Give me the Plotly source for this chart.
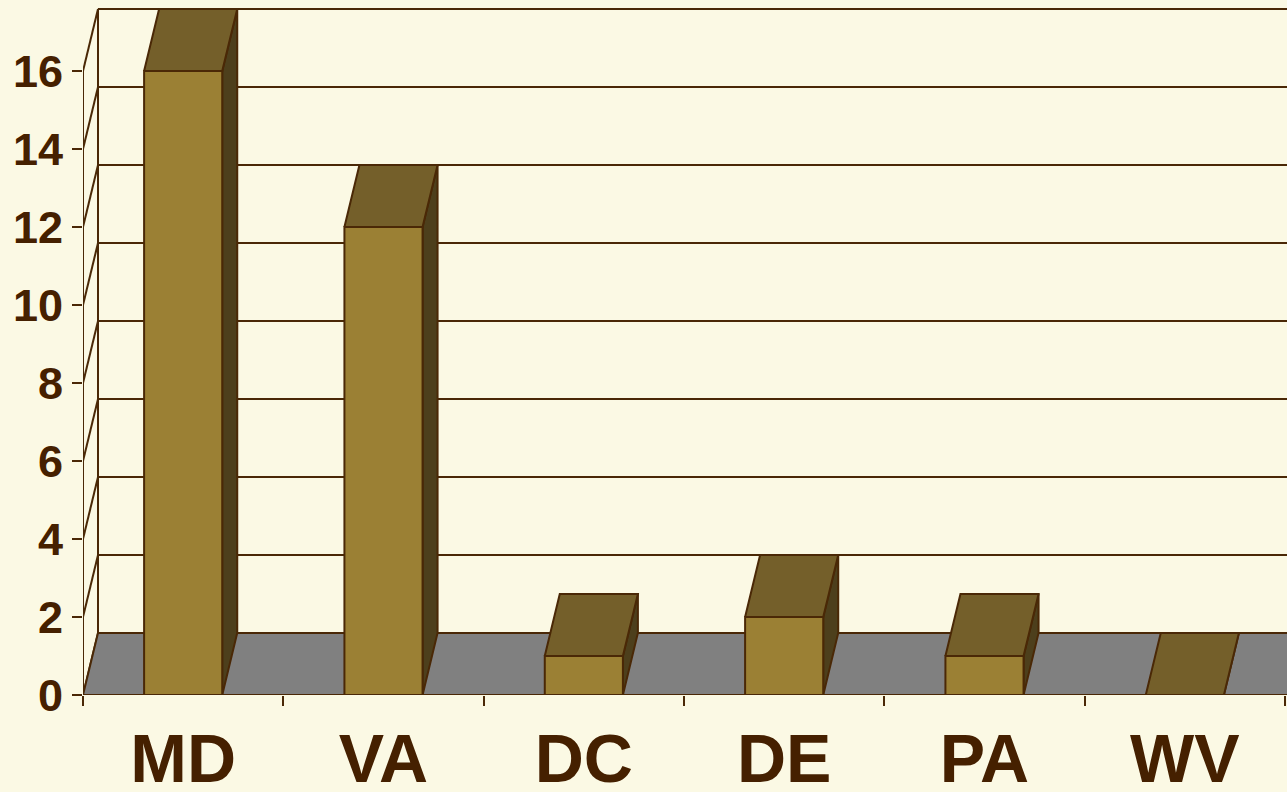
import plotly.graph_objects as go

# ---- data ----
categories = ["MD", "VA", "DC", "DE", "PA", "WV"]
values = [16, 12, 1, 2, 1, 0]
y_ticks = [0, 2, 4, 6, 8, 10, 12, 14, 16]

# ---- style / geometry ----
BG = "#FBF9E4"
LINE = "#4A2806"
TEXT = "#452000"
FRONT = "#9B8034"
TOP = "#745F2A"
SIDE = "#4D3F1C"
FLOOR = "#808080"
LW = 2
DX = 0.0749     # depth offset in category units
DY = 1.59       # depth offset in value units
BW = 0.39       # bar width in category units
X0 = -0.5
XR = 5.51
YMAX = 17.615

fig = go.Figure()

def poly_trace(polys, fill, width=LW, color=LINE):
    xs, ys = [], []
    for p in polys:
        for (x, y) in p + [p[0]]:
            xs.append(x); ys.append(y)
        xs.append(None); ys.append(None)
    return go.Scatter(x=xs, y=ys, mode="lines", fill="toself", fillcolor=fill,
                      line=dict(color=color, width=width), hoverinfo="skip",
                      showlegend=False)

def line_trace(segs, width=LW):
    xs, ys = [], []
    for (a, b) in segs:
        xs += [a[0], b[0], None]; ys += [a[1], b[1], None]
    return go.Scatter(x=xs, y=ys, mode="lines", line=dict(color=LINE, width=width),
                      hoverinfo="skip", showlegend=False)

# back-wall gridlines and left wall
segs = []
for v in y_ticks:
    segs.append(((X0 + DX, v + DY), (XR + 1, v + DY)))
    segs.append(((X0, v), (X0 + DX, v + DY)))
segs.append(((X0, 0), (X0, y_ticks[-1])))
segs.append(((X0 + DX, DY), (X0 + DX, y_ticks[-1] + DY)))
fig.add_trace(line_trace(segs))

# floor
fig.add_trace(poly_trace([[(X0, 0), (XR + 1, 0), (XR + 1 + DX, DY), (X0 + DX, DY)]], FLOOR))

# bars
sides, tops, fronts = [], [], []
for i, v in enumerate(values):
    x0, x1 = i - BW / 2, i + BW / 2
    sides.append([(x1, 0), (x1 + DX, DY), (x1 + DX, v + DY), (x1, v)])
    tops.append([(x0, v), (x1, v), (x1 + DX, v + DY), (x0 + DX, v + DY)])
    if v > 0:
        fronts.append([(x0, 0), (x1, 0), (x1, v), (x0, v)])
fig.add_trace(poly_trace(sides, SIDE))
fig.add_trace(poly_trace(tops, TOP))
fig.add_trace(poly_trace(fronts, FRONT))

fig.update_layout(
    width=1287, height=792,
    paper_bgcolor=BG, plot_bgcolor=BG,
    margin=dict(l=83, r=0, t=8, b=97, autoexpand=False),
    showlegend=False,
    xaxis=dict(range=[X0, XR], tickmode="array",
               tickvals=[X0 + k for k in range(len(categories) + 1)],
               ticks="outside", ticklen=10, tickwidth=LW, tickcolor=LINE,
               showticklabels=False, showgrid=False, zeroline=False, showline=False,
               fixedrange=True, automargin=False),
    xaxis2=dict(range=[X0, XR], overlaying="x", anchor="y", side="bottom",
                tickmode="array", tickvals=list(range(len(categories))),
                ticktext=categories, ticks="", showgrid=False, zeroline=False,
                showline=False, ticklabelstandoff=18, automargin=False,
                fixedrange=True,
                tickfont=dict(family="Arial, Liberation Sans", size=68,
                              color=TEXT, weight="bold")),
    yaxis=dict(range=[0, YMAX], tickmode="array", tickvals=y_ticks,
               ticks="outside", ticklen=10, tickwidth=LW, tickcolor=LINE,
               showgrid=False, zeroline=False, showline=False,
               ticklabelstandoff=0, automargin=False, fixedrange=True,
               tickfont=dict(family="Arial, Liberation Sans", size=45,
                             color=TEXT, weight="bold")),
)
fig.add_trace(go.Scatter(x=[0], y=[0], xaxis="x2", mode="markers",
                         marker=dict(opacity=0), hoverinfo="skip", showlegend=False))

fig.write_html(
    "out.html",
    config={"displayModeBar": False, "staticPlot": True},
    post_script="document.body.style.margin='0';document.body.style.overflow='hidden';"
                "document.body.style.background='" + BG + "';",
)
